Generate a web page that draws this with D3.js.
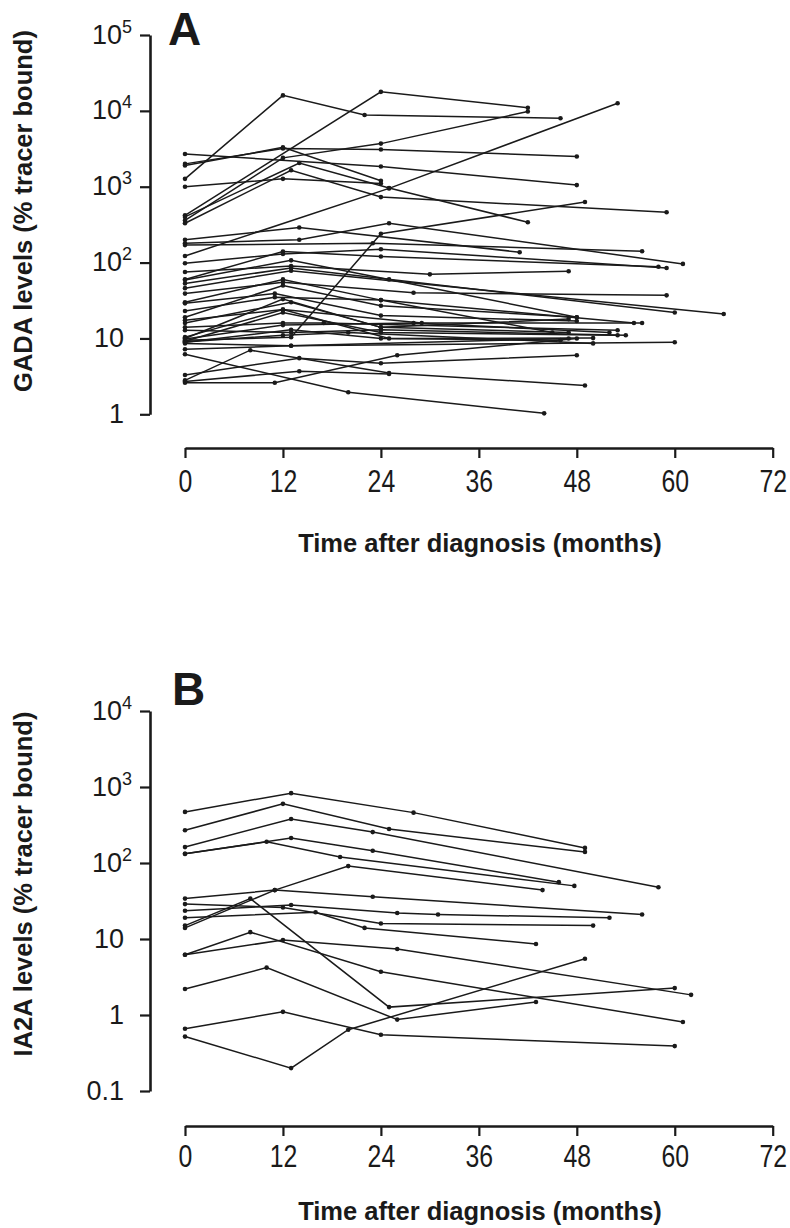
<!DOCTYPE html>
<html>
<head>
<meta charset="utf-8">
<script src="https://cdn.jsdelivr.net/npm/d3@7"></script>
<style>
  body { margin: 0; background: #fff; }
  svg { display: block; }
  .axis path, .axis line { stroke: #1a1a1a; }
  .axis .domain { stroke-width: 2.6; }
  .axis .tick line { stroke-width: 2.2; }
  .x-axis text { font-family: 'Liberation Sans', Arial, sans-serif; font-size: 31px; fill: #1a1a1a; }
  .y-axis text { font-family: 'Liberation Sans', Arial, sans-serif; font-size: 27px; fill: #1a1a1a; }
  .axis-title { font-family: 'Liberation Sans', Arial, sans-serif; font-weight: bold; font-size: 25.5px; fill: #1a1a1a; }
  .panel-letter { font-family: 'Liberation Sans', Arial, sans-serif; font-weight: bold; font-size: 46px; fill: #1a1a1a; }
  .series { fill: none; stroke: #1a1a1a; stroke-width: 1.5; }
  .dot { fill: #1a1a1a; }
</style>
</head>
<body>
<svg width="790" height="1228"></svg>
<script>
const months = [0, 12, 24, 36, 48, 60, 72];
const gadaTicks = [1, 10, 100, 1000, 10000, 100000];
const ia2aTicks = [0.1, 1, 10, 100, 1000, 10000];

// [month, % tracer bound]
const gadaSeries = [
  [[0, 1270], [12, 16000], [22, 8800], [46, 8000]],
  [[0, 420], [24, 17800], [42, 11000]],
  [[0, 360], [12, 2400], [24, 3700], [42, 9800]],
  [[0, 2000], [12, 3200], [24, 3100], [48, 2500]],
  [[0, 2700], [24, 1850], [48, 1050]],
  [[0, 1900], [12, 3300], [24, 1200]],
  [[0, 1000], [12, 1270], [24, 1100]],
  [[0, 400], [14, 2050], [25, 960], [42, 340]],
  [[0, 330], [13, 1650], [24, 730], [59, 460]],
  [[0, 122], [25, 950], [53, 12600]],
  [[0, 200], [14, 290], [41, 137]],
  [[0, 180], [14, 200], [25, 330], [61, 96]],
  [[0, 170], [23, 180], [56, 141]],
  [[0, 98], [12, 130], [24, 150], [59, 85]],
  [[0, 75], [13, 90], [30, 70], [47, 77]],
  [[0, 60], [12, 140], [24, 120], [58, 88]],
  [[0, 53], [13, 85], [60, 22]],
  [[0, 46], [13, 78], [66, 21]],
  [[0, 39], [12, 55], [28, 40], [59, 37]],
  [[0, 59], [13, 107], [25, 60], [48, 19]],
  [[0, 29], [11, 39], [24, 20], [48, 17]],
  [[0, 23], [11, 35], [24, 32], [45, 12]],
  [[0, 19], [12, 50], [24, 27], [48, 19]],
  [[0, 17.4], [12, 24], [29, 16], [56, 16]],
  [[0, 14], [12, 16], [17, 16], [53, 12.8]],
  [[0, 12.8], [13, 12], [24, 13], [54, 11]],
  [[0, 10.4], [12, 24], [25, 10], [50, 10.1]],
  [[0, 9.5], [13, 10.4], [24, 240], [49, 630]],
  [[0, 9], [12, 11], [20, 12], [50, 8.6]],
  [[0, 8.6], [13, 8], [47, 10]],
  [[0, 7.2], [13, 8], [60, 8.9]],
  [[0, 6.2], [20, 1.95], [44, 1.03]],
  [[0, 2.8], [8, 7], [25, 3.5], [49, 2.4]],
  [[0, 3.3], [14, 5.5], [24, 4.7], [48, 6]],
  [[0, 2.6], [11, 2.6], [26, 6], [48, 10]],
  [[0, 2.7], [14, 3.7], [25, 3.4]],
  [[0, 10], [12, 33], [24, 14], [47, 12]],
  [[0, 9.2], [12, 22], [24, 12], [53, 11]],
  [[0, 9.8], [12, 15], [28, 16], [52, 12]],
  [[0, 8.9], [13, 13], [24, 10], [46, 9.5]],
  [[0, 16], [13, 30], [24, 14], [47, 18]],
  [[0, 30], [12, 60], [24, 32], [55, 16]]
];

const ia2aSeries = [
  [[0, 470], [13, 830], [28, 460], [49, 158]],
  [[0, 270], [12, 600], [25, 280], [49, 140]],
  [[0, 162], [13, 380], [23, 255], [58, 48]],
  [[0, 132], [10, 190], [19, 120], [47.7, 50]],
  [[0, 132], [13, 213], [23, 145], [45.8, 56]],
  [[0, 34], [11, 44], [23, 36], [56, 21]],
  [[0, 15], [8, 34], [25, 1.27], [60, 2.26]],
  [[0, 14], [11, 44], [20, 91], [43.8, 44]],
  [[0, 28.8], [12, 26], [24, 16], [50, 15]],
  [[0, 23.5], [13, 28], [26, 22], [31, 21], [52, 19]],
  [[0, 19], [16, 22.5], [22, 14], [43, 8.6]],
  [[0, 6.2], [8, 12.3], [24, 3.7], [61, 0.81]],
  [[0, 6.2], [12, 9.7], [26, 7.4], [62, 1.84]],
  [[0, 2.2], [10, 4.2], [26, 0.87], [43, 1.48]],
  [[0, 0.66], [12, 1.1], [24, 0.55], [60, 0.39]],
  [[0, 0.52], [13, 0.2], [20, 0.64], [49, 5.5]]
];

const svg = d3.select('svg');

const xScale = d3.scaleLinear().domain([0, 72]).range([185, 772.7]);

function drawPanel(opts) {
  const yScale = d3
    .scaleLog()
    .domain(d3.extent(opts.ticks))
    .range([opts.yBottom, opts.yTop]);

  const g = svg.append('g');

  const line = d3
    .line()
    .x(d => xScale(d[0]))
    .y(d => yScale(d[1]));

  g.selectAll('.series')
    .data(opts.series)
    .enter()
    .append('path')
    .attr('class', 'series')
    .attr('d', line);

  g.selectAll('.dot')
    .data(opts.series.flat())
    .enter()
    .append('circle')
    .attr('class', 'dot')
    .attr('cx', d => xScale(d[0]))
    .attr('cy', d => yScale(d[1]))
    .attr('r', 2.3);

  // y axis with powers of ten as superscripts
  const yAxis = g
    .append('g')
    .attr('class', 'axis y-axis')
    .attr('transform', 'translate(150,0)')
    .call(
      d3
        .axisLeft(yScale)
        .tickValues(opts.ticks)
        .tickSize(10)
        .tickSizeOuter(0)
        .tickFormat('')
    );

  yAxis.selectAll('.tick').each(function(d) {
    const exp = Math.round(Math.log10(d));
    const t = d3
      .select(this)
      .select('text')
      .attr('dy', '0.3em')
      .attr('text-anchor', 'end');
    if (exp >= 2) {
      t.attr('x', -18);
      t.append('tspan').text('10');
      t.append('tspan')
        .attr('dy', -11)
        .style('font-size', '18px')
        .text(exp);
    } else {
      t.attr('x', -26).text(d);
    }
  });

  // condensed tick numbers, like the original typeface
  g.append('g')
    .attr('class', 'axis x-axis')
    .attr('transform', `translate(0,${opts.xAxisY})`)
    .call(
      d3
        .axisBottom(xScale)
        .tickValues(months)
        .tickSize(10)
        .tickSizeOuter(0)
    )
    .selectAll('text')
    .attr('dy', 0)
    .attr('y', opts.tickLabelOffset)
    .attr('transform', 'scale(0.8,1)');

  g.append('text')
    .attr('class', 'axis-title')
    .attr('text-anchor', 'middle')
    .attr('x', 480)
    .attr('y', opts.xTitleY)
    .text('Time after diagnosis (months)');

  g.append('text')
    .attr('class', 'axis-title')
    .attr('text-anchor', 'middle')
    .attr('transform', `translate(${opts.yTitleX},${opts.yTitleMid}) rotate(-90)`)
    .text(opts.yTitle);

  g.append('text')
    .attr('class', 'panel-letter')
    .attr('x', opts.letterX)
    .attr('y', opts.letterY)
    .text(opts.letter);
}

drawPanel({
  series: gadaSeries,
  ticks: gadaTicks,
  yTop: 35,
  yBottom: 414.3,
  xAxisY: 448,
  tickLabelOffset: 44,
  xTitleY: 552,
  yTitle: 'GADA levels (% tracer bound)',
  yTitleX: 32,
  yTitleMid: 211,
  letter: 'A',
  letterX: 168,
  letterY: 45
});

drawPanel({
  series: ia2aSeries,
  ticks: ia2aTicks,
  yTop: 711,
  yBottom: 1091,
  xAxisY: 1126,
  tickLabelOffset: 41,
  xTitleY: 1220,
  yTitle: 'IA2A levels (% tracer bound)',
  yTitleX: 32,
  yTitleMid: 884,
  letter: 'B',
  letterX: 172,
  letterY: 705
});
</script>
</body>
</html>
